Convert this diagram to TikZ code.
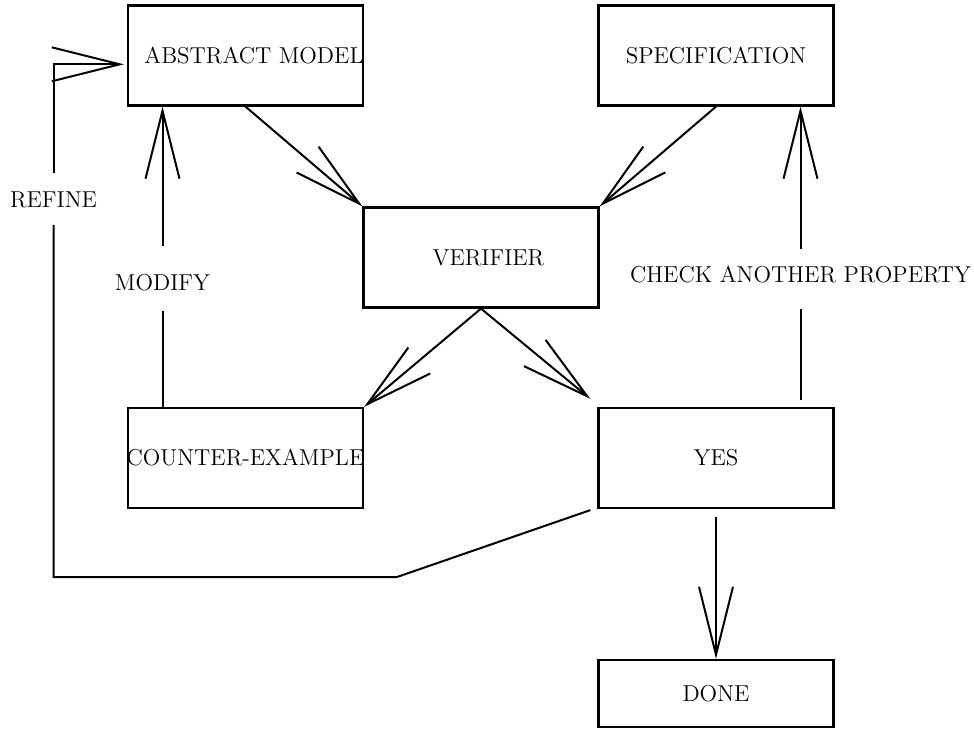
\documentclass[tikz,border=0pt]{standalone}
\usetikzlibrary{arrows.meta}
\tikzset{
 box/.style={draw, line width=1.1pt, rectangle, minimum width=117.5pt, minimum height=50pt, inner sep=0pt, font=\fontsize{11.5}{13}\selectfont},
 lbl/.style={inner sep=0pt, anchor=base, font=\fontsize{11.5}{13}\selectfont},
 conn/.style={line width=1pt},
 arr/.style={conn, -{Straight Barb[length=34pt,width=17pt]}},
}
\begin{document}
\begin{tikzpicture}[x=0.5pt,y=-0.5pt]
\useasboundingbox (0,0) rectangle (974,728);
\node[box] (am) at (245.5,55.5) {\makebox[0pt]{\hspace*{8.5pt}ABSTRACT MODEL}};
\node[box] (spec) at (716,55.5) {\makebox[0pt]{SPECIFICATION}};
\node[box] (ver) at (481,257.5) {\makebox[0pt]{\hspace*{7.5pt}VERIFIER}};
\node[box] (ce) at (245.5,458) {\makebox[0pt]{COUNTER-EXAMPLE}};
\node[box] (yes) at (716,458) {\makebox[0pt]{YES}};
\node[box, minimum height=33.5pt] (done) at (716,693.5) {\makebox[0pt]{DONE}};

\node[lbl] (modify) at (162.5,290) {MODIFY};
\node[lbl] (check) at (800.5,282.7) {CHECK ANOTHER PROPERTY};
\node[lbl] (refine) at (53.5,207) {REFINE};

\draw[arr] (am.south) -- (ver.north west);
\draw[arr] (spec.south) -- (ver.north east);
\draw[arr] (ver.south) -- (ce.north east);
\draw[arr] (ver.south) -- ([xshift=-3.5pt,yshift=4pt]yes.north west);

\draw[conn] (ce.north -| modify) -- ([yshift=-10pt]modify.south);
\draw[arr] ([yshift=13.5pt]modify.north) -- (am.south -| modify);

\draw[conn, shorten <=3.5pt] (yes.north -| check) -- ([yshift=-12.6pt]check.south);
\draw[arr] ([yshift=8.5pt]check.north) -- (spec.south -| check);

\draw[arr, shorten <=4pt] (yes.south) -- (done.north);

\coordinate (r1) at (397,577);
\coordinate (r2) at (53.5,577);
\draw[conn] ([xshift=-3.5pt,yshift=-0.5pt]yes.south west) -- (r1) -- (r2) -- ([yshift=-8.5pt]refine.south);
\draw[arr] ([yshift=9pt]refine.north) |- ([xshift=-1.5pt,yshift=-4.4pt]am.west);
\end{tikzpicture}
\end{document}
